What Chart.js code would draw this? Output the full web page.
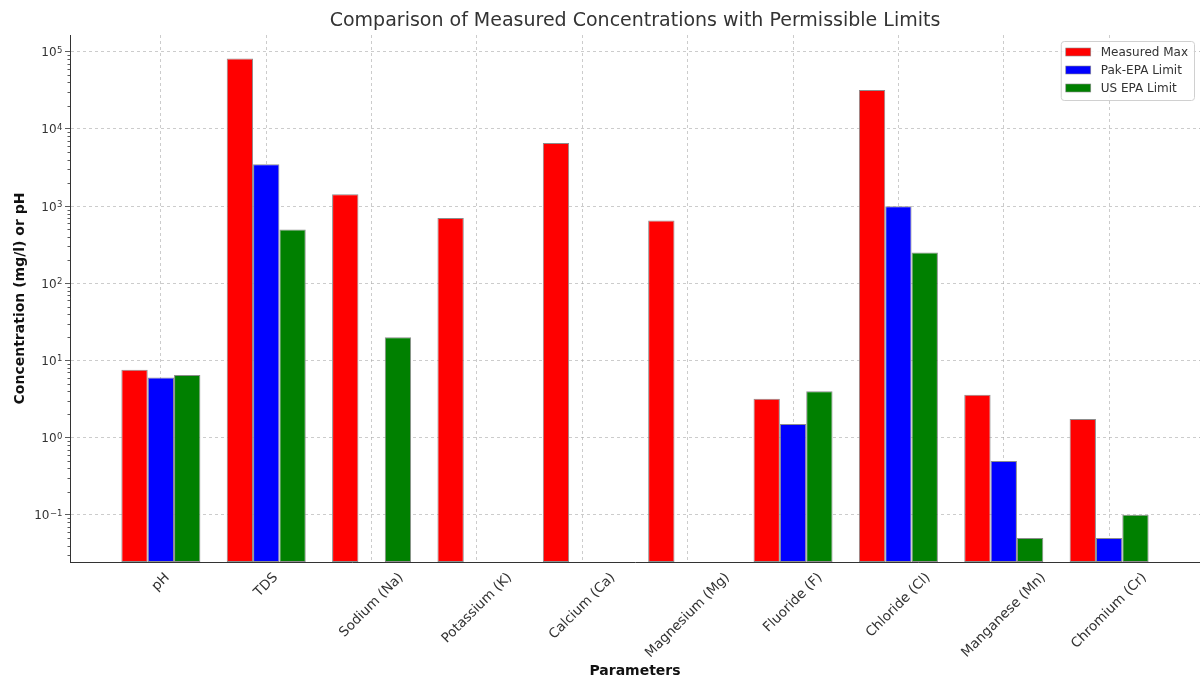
<!DOCTYPE html>
<html>
<head>
<meta charset="utf-8">
<title>Measured Concentrations vs Permissible Limits</title>
<script src="https://cdn.jsdelivr.net/npm/chart.js@4"></script>
<style>
  html, body { margin: 0; padding: 0; background: #ffffff; }
  #wrap { width: 1200px; height: 681px; position: relative; }
</style>
</head>
<body>
<div id="wrap"><canvas id="chart"></canvas></div>
<script>
// Water-quality parameters and their values (mg/l, pH unitless)
const categories = ['pH', 'TDS', 'Sodium (Na)', 'Potassium (K)', 'Calcium (Ca)',
  'Magnesium (Mg)', 'Fluoride (F)', 'Chloride (Cl)', 'Manganese (Mn)', 'Chromium (Cr)'];
const measuredMax = [7.6, 82000, 1430, 700, 6600, 650, 3.2, 32000, 3.6, 1.75];
const pakEpaLimit = [6.0, 3500, null, null, null, null, 1.5, 1000, 0.5, 0.05];
const usEpaLimit  = [6.5, 500, 20, null, null, null, 4.0, 250, 0.05, 0.1];
const seriesNames = ['Measured Max', 'Pak-EPA Limit', 'US EPA Limit'];
const seriesColors = ['#ff0000', '#0000ff', '#008000'];
const yTickExponents = [-1, 0, 1, 2, 3, 4, 5];

const FONT = "'DejaVu Sans', 'Liberation Sans', sans-serif";
const TEXT = '#333333';

const toPoints = arr => arr.map((v, i) => ({ x: i, y: v }));
const seriesValues = [measuredMax, pakEpaLimit, usEpaLimit];

const datasets = seriesValues.map((vals, k) => ({
  label: seriesNames[k],
  data: toPoints(vals),
  backgroundColor: seriesColors[k],
  borderColor: '#8c8c8c',
  borderWidth: 1,
  borderSkipped: false,
  categoryPercentage: 0.75,
  barPercentage: 1.0
}));

// Title centred over the plotting area
const titlePlugin = {
  id: 'plotTitle',
  afterDraw(chart) {
    const { ctx, chartArea } = chart;
    ctx.save();
    ctx.font = `19px ${FONT}`;
    ctx.fillStyle = TEXT;
    ctx.textAlign = 'center';
    ctx.textBaseline = 'middle';
    ctx.fillText('Comparison of Measured Concentrations with Permissible Limits',
      (chartArea.left + chartArea.right) / 2, 21);
    ctx.restore();
  }
};

// Power-of-ten labels on the log axis, with a raised exponent
const yLabelsPlugin = {
  id: 'yPowerLabels',
  afterDraw(chart) {
    const y = chart.scales.y;
    const { ctx, chartArea } = chart;
    const right = chartArea.left - 8;
    ctx.save();
    ctx.fillStyle = TEXT;
    ctx.textAlign = 'left';
    ctx.textBaseline = 'alphabetic';
    y.ticks.forEach(t => {
      const e = Math.round(Math.log10(t.value));
      const exp = e < 0 ? '\u2212' + Math.abs(e) : String(e);
      const py = y.getPixelForValue(t.value);
      ctx.font = `8.5px ${FONT}`;
      const we = ctx.measureText(exp).width;
      ctx.font = `12px ${FONT}`;
      const wb = ctx.measureText('10').width;
      const x0 = right - we - wb;
      ctx.fillText('10', x0, py + 4.5);
      ctx.font = `8.5px ${FONT}`;
      ctx.fillText(exp, x0 + wb + 0.5, py + 1);
    });
    ctx.restore();
  }
};

// Category names, rotated 45 degrees and centred under each group
const xLabelsPlugin = {
  id: 'xRotatedLabels',
  afterDraw(chart) {
    const x = chart.scales.x;
    const { ctx, chartArea } = chart;
    const size = 13.5;
    ctx.save();
    ctx.font = `${size}px ${FONT}`;
    ctx.fillStyle = TEXT;
    ctx.textAlign = 'center';
    ctx.textBaseline = 'middle';
    categories.forEach((name, i) => {
      const px = x.getPixelForValue(i);
      const L = ctx.measureText(name).width;
      const h = size * 1.17;
      const cy = chartArea.bottom + 8 + (L + h) * Math.SQRT1_2 / 2;
      ctx.save();
      ctx.translate(px, cy);
      ctx.rotate(-Math.PI / 4);
      ctx.fillText(name, 0, 0);
      ctx.restore();
    });
    ctx.restore();
  }
};

// Minor tick marks between the decades of the log axis
const minorTicksPlugin = {
  id: 'minorTicks',
  afterDraw(chart) {
    const y = chart.scales.y;
    const { ctx, chartArea } = chart;
    ctx.save();
    ctx.strokeStyle = TEXT;
    ctx.lineWidth = 0.8;
    for (let e = -2; e <= 5; e++) {
      for (let m = 2; m <= 9; m++) {
        const v = m * Math.pow(10, e);
        if (v < y.min || v > y.max) continue;
        const py = Math.round(y.getPixelForValue(v)) + 0.5;
        ctx.beginPath();
        ctx.moveTo(chartArea.left - 2.5, py);
        ctx.lineTo(chartArea.left, py);
        ctx.stroke();
      }
    }
    ctx.restore();
  }
};

// Legend box drawn inside the upper-right corner of the plot
const insideLegendPlugin = {
  id: 'insideLegend',
  afterDraw(chart) {
    const { ctx, chartArea } = chart;
    const sets = chart.data.datasets;
    ctx.save();
    ctx.font = `12px ${FONT}`;
    const textW = Math.max(...sets.map(d => ctx.measureText(d.label).width));
    const padL = 5, sw = 25, gap = 10, padR = 6, rowH = 18;
    const w = padL + sw + gap + textW + padR;
    const h = sets.length * rowH + 5;
    const x = chartArea.right - 6 - w;
    const top = chartArea.top + 6;
    ctx.fillStyle = 'rgba(255,255,255,0.85)';
    ctx.strokeStyle = '#d0d0d0';
    ctx.lineWidth = 1;
    ctx.beginPath();
    ctx.roundRect(x + 0.5, top + 0.5, w, h, 3);
    ctx.fill();
    ctx.stroke();
    sets.forEach((d, i) => {
      const cy = top + 11 + i * rowH;
      ctx.fillStyle = d.backgroundColor;
      ctx.fillRect(x + padL, cy - 4, sw, 8);
      ctx.strokeStyle = '#8c8c8c';
      ctx.lineWidth = 0.6;
      ctx.strokeRect(x + padL, cy - 4, sw, 8);
      ctx.fillStyle = TEXT;
      ctx.textAlign = 'left';
      ctx.textBaseline = 'middle';
      ctx.fillText(d.label, x + padL + sw + gap, cy + 0.5);
    });
    ctx.restore();
  }
};

const gridStyle = {
  color: 'rgba(170,170,170,0.75)',
  lineWidth: 0.8,
  drawTicks: false
};

new Chart(document.getElementById('chart'), {
  type: 'bar',
  data: { datasets },
  plugins: [titlePlugin, minorTicksPlugin, yLabelsPlugin, xLabelsPlugin, insideLegendPlugin],
  options: {
    responsive: true,
    maintainAspectRatio: false,
    animation: false,
    layout: { padding: { top: 35, right: 0, bottom: 0, left: 0 } },
    plugins: {
      legend: { display: false },
      title: { display: false },
      tooltip: { enabled: false }
    },
    scales: {
      x: {
        type: 'linear',
        offset: false,
        min: -0.8625,
        max: 9.8625,
        afterBuildTicks(scale) {
          scale.ticks = categories.map((_, i) => ({ value: i }));
        },
        afterFit(scale) { scale.height = 119; },
        ticks: { display: false, autoSkip: false },
        grid: Object.assign({ offset: false }, gridStyle),
        border: { display: true, color: TEXT, width: 1, dash: [3, 3] },
        title: {
          display: true,
          text: 'Parameters',
          color: '#111111',
          font: { family: FONT, size: 14, weight: 'bold' },
          padding: { top: 4, bottom: 1 }
        }
      },
      y: {
        type: 'logarithmic',
        min: 0.0245,
        max: 165000,
        afterBuildTicks(scale) {
          scale.ticks = yTickExponents.map(e => ({ value: Math.pow(10, e) }));
        },
        afterFit(scale) { scale.width = 70; },
        ticks: { display: false, autoSkip: false },
        grid: Object.assign({}, gridStyle, { drawTicks: true, tickLength: 5, tickColor: TEXT, tickWidth: 0.8 }),
        border: { display: true, color: TEXT, width: 1, dash: [3, 3] },
        title: {
          display: true,
          text: 'Concentration (mg/l) or pH',
          color: '#111111',
          font: { family: FONT, size: 14, weight: 'bold' },
          padding: { top: 12, bottom: 4 }
        }
      }
    }
  }
});
</script>
</body>
</html>
